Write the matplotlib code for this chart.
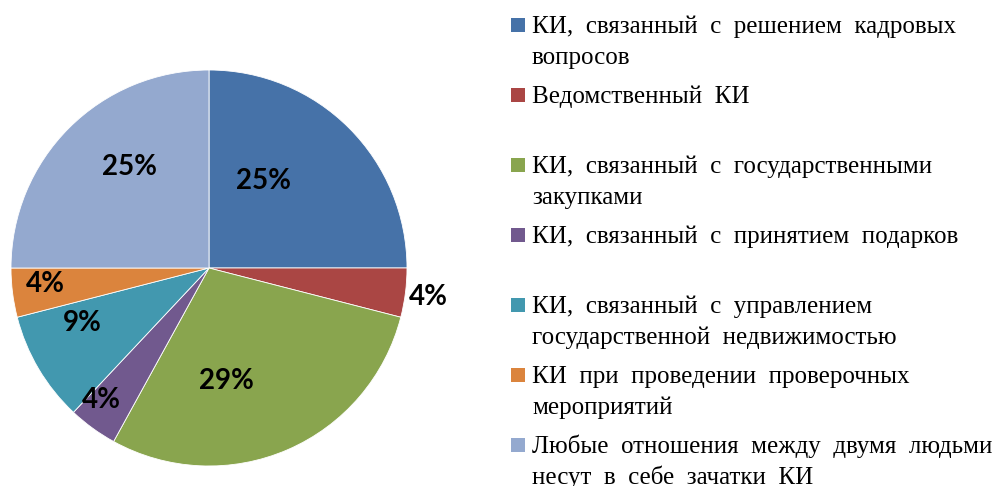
import matplotlib
matplotlib.use('Agg')
import matplotlib.pyplot as plt
import numpy as np
from matplotlib.patches import Rectangle

# data
labels = ['КИ,  связанный  с  решением  кадровых\nвопросов',
          'Ведомственный  КИ',
          'КИ,  связанный  с  государственными\nзакупками',
          'КИ,  связанный  с  принятием  подарков',
          'КИ,  связанный  с  управлением\nгосударственной  недвижимостью',
          'КИ  при  проведении  проверочных\nмероприятий',
          'Любые  отношения  между  двумя  людьми\nнесут  в  себе  зачатки  КИ']
values = [25, 4, 29, 4, 9, 4, 25]
colors = ['#4672A8', '#AA4644', '#89A54E', '#71598E', '#4298AF', '#DB843D', '#94A9CF']

# label placement (radius fraction, angle shift in deg)
lab_r = [0.52, 1.12, 0.58, 0.86, 0.70, 0.83, 0.65]
lab_da = [13, -0.3, -14.5, -3, -7, -1.6, -7]
# legend rows: square centre y in px from top
leg_y = [25, 95, 165, 235, 305, 375, 445]

W, H = 999, 486
fig = plt.figure(figsize=(W / 100, H / 100), dpi=100)
cx, cy, R = 209, 268, 198
ax = fig.add_axes([(cx - R) / W, (H - cy - R) / H, 2 * R / W, 2 * R / H])
wedges, _ = ax.pie(values, colors=colors, startangle=90, counterclock=False,
                   radius=1, wedgeprops=dict(linewidth=0.6, edgecolor='white'))
ax.set_xlim(-1, 1)
ax.set_ylim(-1, 1)
ax.set_aspect('equal')
ax.axis('off')

for w, v, r, da in zip(wedges, values, lab_r, lab_da):
    mid = np.deg2rad((w.theta1 + w.theta2) / 2 + da)
    ax.text(r * np.cos(mid), r * np.sin(mid), f'{v}%', ha='center', va='center',
            fontsize=20, fontweight='bold', family='Lato', color='black')

# legend drawn by hand (uneven row spacing)
for lab, c, y in zip(labels, colors, leg_y):
    fig.patches.append(Rectangle((511 / W, 1 - (y + 7) / H), 14 / W, 14 / H,
                                 transform=fig.transFigure, facecolor=c, edgecolor='none'))
    for i, line in enumerate(lab.split('\n')):
        fig.text(532 / W, 1 - (y + 8 + 31 * i) / H, line, ha='left', va='baseline',
                 fontsize=18, family='Liberation Serif', color='black')

fig.savefig('out.png', dpi=100)
